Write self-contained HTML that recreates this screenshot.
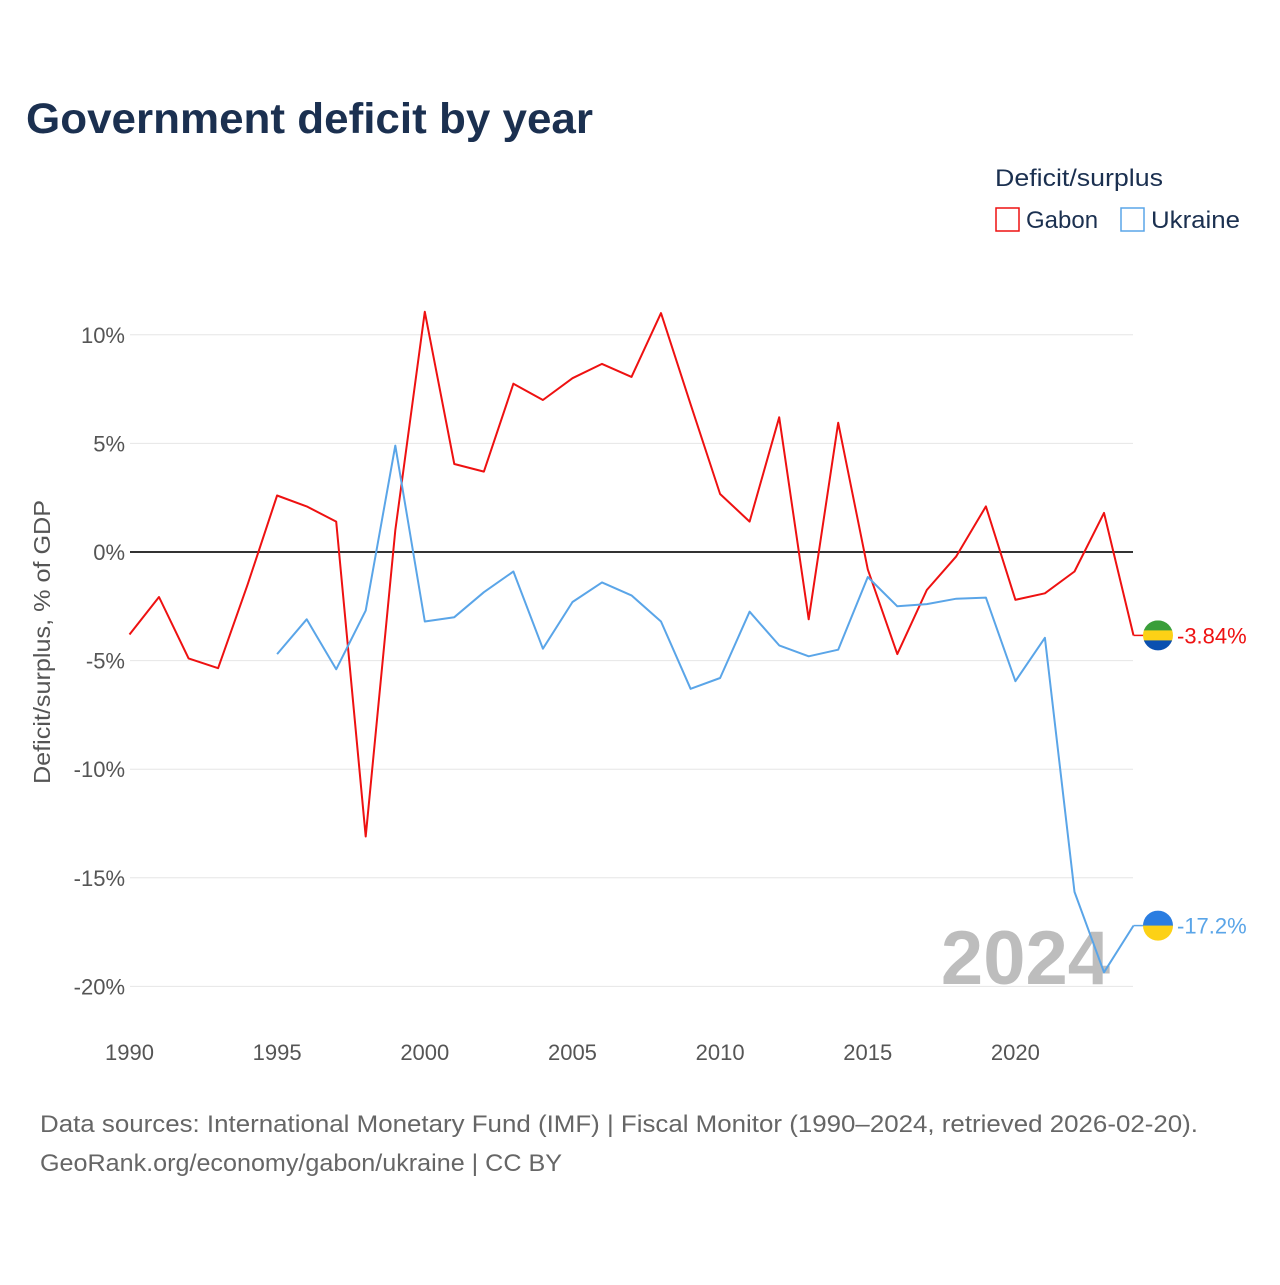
<!DOCTYPE html>
<html><head><meta charset="utf-8"><style>
body{margin:0;background:#fff;font-family:"Liberation Sans",sans-serif;}
svg text{font-family:"Liberation Sans",sans-serif;}
</style></head><body>
<svg id="chart" width="1280" height="1280" viewBox="0 0 1280 1280" xmlns="http://www.w3.org/2000/svg">
<rect width="1280" height="1280" fill="#fff"/>
<text x="26" y="133" font-size="43" font-weight="bold" fill="#1b3050" textLength="567" lengthAdjust="spacingAndGlyphs">Government deficit by year</text>
<text x="995" y="186" font-size="24" fill="#1b3050" textLength="168" lengthAdjust="spacingAndGlyphs">Deficit/surplus</text>
<g><rect x="996" y="208" width="23" height="23" fill="none" stroke="#ee1111" stroke-width="1.5"/><text x="1026" y="228" font-size="24" fill="#1b3050">Gabon</text></g>
<g><rect x="1121" y="208" width="23" height="23" fill="none" stroke="#5aa5e8" stroke-width="1.5"/><text x="1151" y="228" font-size="24" fill="#1b3050" textLength="89" lengthAdjust="spacingAndGlyphs">Ukraine</text></g>
<text transform="translate(50,642) rotate(-90)" text-anchor="middle" font-size="23" fill="#555" textLength="284" lengthAdjust="spacingAndGlyphs">Deficit/surplus, % of GDP</text>
<text x="1110" y="984" text-anchor="end" font-size="76" font-weight="bold" fill="#bdbdbd">2024</text>
<g id="grid"></g><g id="xticks"></g><g id="series"></g>
<text x="40" y="1132" font-size="24" fill="#666" textLength="1158" lengthAdjust="spacingAndGlyphs">Data sources: International Monetary Fund (IMF) | Fiscal Monitor (1990–2024, retrieved 2026-02-20).</text>
<text x="40" y="1171" font-size="24" fill="#666" textLength="522" lengthAdjust="spacingAndGlyphs">GeoRank.org/economy/gabon/ukraine | CC BY</text>
</svg>
<script>
const years=[];for(let y=1990;y<=2024;y++)years.push(y);
const gabon=[-3.8,-2.07,-4.9,-5.35,-1.5,2.6,2.1,1.4,-13.1,1.0,11.06,4.05,3.7,7.75,7.0,8.0,8.66,8.06,11.0,6.8,2.67,1.4,6.2,-3.1,5.95,-0.8,-4.7,-1.75,-0.2,2.1,-2.2,-1.9,-0.9,1.8,-3.84];
const ukraine=[null,null,null,null,null,-4.7,-3.1,-5.4,-2.7,4.9,-3.2,-3.0,-1.85,-0.9,-4.45,-2.3,-1.4,-2.0,-3.2,-6.3,-5.8,-2.75,-4.3,-4.8,-4.5,-1.15,-2.5,-2.4,-2.15,-2.1,-5.95,-3.95,-15.65,-19.35,-17.2];
const yTicks=[10,5,0,-5,-10,-15,-20];
const xTicks=[1990,1995,2000,2005,2010,2015,2020];
const X=v=>129.5+(v-1990)*29.53;
const Y=v=>552-v*21.72;
const NS="http://www.w3.org/2000/svg";
function mk(tag,attrs,parent){const e=document.createElementNS(NS,tag);for(const k in attrs)e.setAttribute(k,attrs[k]);parent.appendChild(e);return e;}
const grid=document.getElementById('grid');
yTicks.forEach(t=>{
 const l=mk('line',{x1:130,x2:1133,y1:Y(t),y2:Y(t),stroke:t===0?'#333':'#e6e6e6','stroke-width':t===0?2:1},grid);
 
 
 const tx=mk('text',{x:125,y:Y(t)+8,'text-anchor':'end','font-size':22,fill:'#555'},grid);
 tx.textContent=t+'%';
 
 
});
const xg=document.getElementById('xticks');
xTicks.forEach(t=>{
 const tx=mk('text',{x:X(t),y:1060,'text-anchor':'middle','font-size':22,fill:'#555'},xg);
 tx.textContent=t;
 
 
});
const sg=document.getElementById('series');
function draw(vals,color,name,label,flag){
 let d='';vals.forEach((v,i)=>{if(v===null)return;d+=(d?'L':'M')+X(years[i]).toFixed(1)+','+Y(v).toFixed(1);});
 const p=mk('path',{d:d,fill:'none',stroke:color,'stroke-width':2,'stroke-linejoin':'round'},sg);
 
 
 const last=vals[vals.length-1],ly=Y(last);
 mk('line',{x1:X(2024),x2:1146,y1:ly,y2:ly,stroke:color,'stroke-width':1.5},sg);
 const g=mk('g',{},sg);
 
 
 const cx=1158,r=15;
 mk('clipPath',{id:'c'+name},g);
 mk('circle',{cx:cx,cy:ly,r:r},g.lastChild);
 const gc=mk('g',{'clip-path':'url(#c'+name+')'},g);
 const h=2*r/flag.length;
 flag.forEach((c,i)=>mk('rect',{x:cx-r,y:ly-r+i*h,width:2*r,height:h+0.5,fill:c},gc));
 const t=mk('text',{x:1177,y:ly+8,'font-size':22,fill:color},sg);
 t.textContent=label;
 
 
}
draw(gabon,'#ee1111','gabon',gabon[gabon.length-1].toFixed(2)+'%',['#3a9e3a','#fcd116','#0a50b0']);
draw(ukraine,'#5aa5e8','ukraine',ukraine[ukraine.length-1].toFixed(1)+'%',['#2a7de1','#fcd116']);
</script>
</body></html>
